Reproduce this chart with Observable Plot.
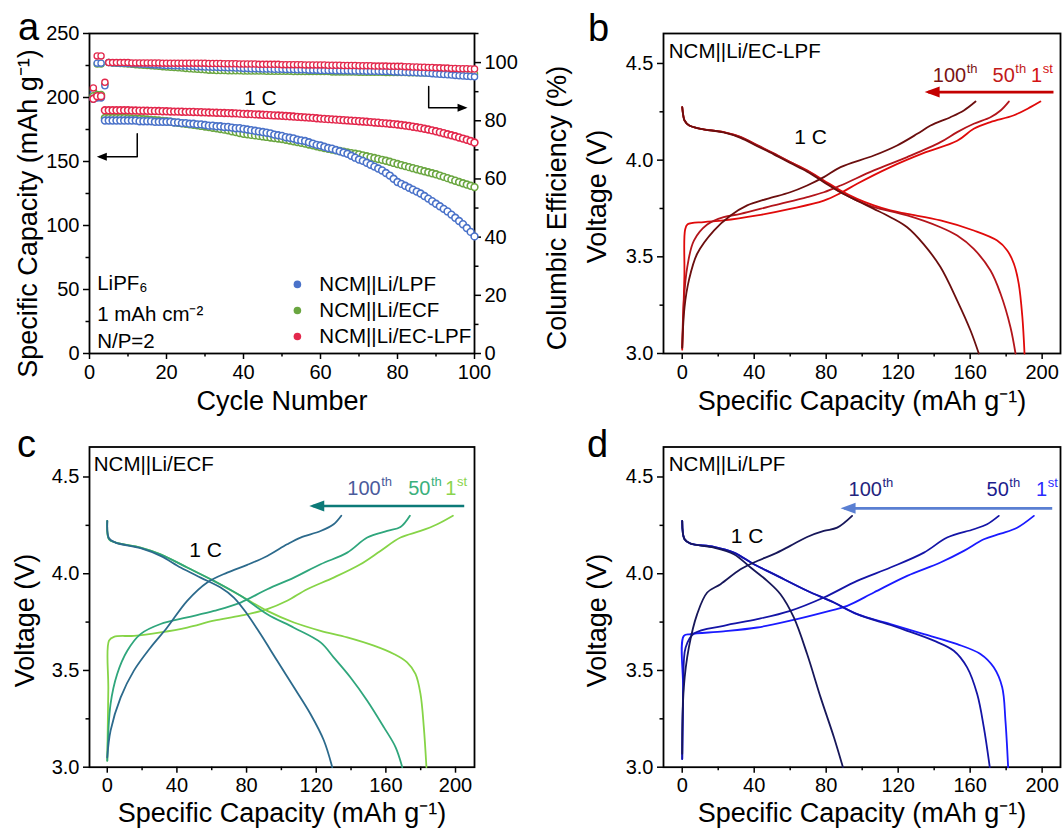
<!DOCTYPE html>
<html>
<head>
<meta charset="utf-8">
<script src="https://cdn.jsdelivr.net/npm/d3@7"></script>
<script src="https://cdn.jsdelivr.net/npm/@observablehq/plot@0.6"></script>
<style>
  body { margin: 0; background: #fff; }
  #fig { position: relative; width: 1063px; height: 831px; overflow: hidden; background: #fff; }
  #fig svg { position: absolute; overflow: visible; background: none; max-width: none; }
</style>
</head>
<body>
<div id="fig"></div>
<script>
// ---------- Panel a: cycling of three cells (cycles 1–100) ----------
const cycles = d3.range(1, 101);
const seriesNames = ["NCM||Li/LPF", "NCM||Li/ECF", "NCM||Li/EC-LPF"];

// specific capacity (mAh g^-1)
const capLPF = [199,200,200,182,
  182,182,182,182,182,182,182,182,181.5,181.5,181.5,181.5,181,181,181,181,
  181,180.5,180.5,180,180,179.5,179.5,179,179,178.5,
  178,178,177.5,177.5,177,177,176.5,176,176,175.5,
  175,174.5,174,173.5,173,172.5,172,171,170.5,170,
  169,168.5,168,167,166.5,166,165,164,163,162.5,
  161.5,160.5,160,159,158,157,156,154.5,153,151.5,
  150.5,149,147.5,146,144.5,143,141,139,136.5,134,
  132.5,131,129.5,128,126.5,125,123,121,119,117,
  115,113,111,108.5,106,103.5,101,98,95,91.5];
const capECF = [201,202,202,184,
  184,184,184,184,184,183.8,183.6,183.4,183.2,183,182.8,182.5,182.2,182,181.7,181.4,
  181,180.6,180.2,179.8,179.4,179,178.6,178.2,177.8,177.4,
  176.9,176.4,175.9,175.4,174.9,174.4,173.6,173,172.3,171.6,
  171.2,170.8,170.4,170,169.6,169.2,168.8,168.4,168,167.6,
  167,166.4,165.8,165.2,164.6,164,163.3,162.6,161.9,161.2,
  160.6,160,159.4,158.8,158.2,157.6,157,156.5,156,155.5,
  154.8,154.1,153.4,152.7,152,151.3,150.6,149.8,148.9,148,
  147.2,146.4,145.6,144.8,144,143.2,142.4,141.6,140.8,140,
  139,138,137,136,135,134,133,132,131,130];
const capECLPF = [199,201,201,190,
  190,190,190,190,190,190,189.8,189.8,189.7,189.7,189.6,189.5,189.5,189.4,189.3,189.2,
  189.1,189,189,188.9,188.8,188.8,188.7,188.6,188.5,188.4,
  188.3,188.2,188.1,188,187.9,187.8,187.7,187.6,187.4,187.2,
  187.1,187,186.8,186.7,186.5,186.4,186.2,186,185.9,185.7,
  185.5,185.3,185.1,184.9,184.7,184.5,184.3,184.1,183.8,183.5,
  183.3,183.1,182.9,182.7,182.5,182.3,182.1,181.9,181.7,181.5,
  181.3,181,180.8,180.5,180.3,180,179.8,179.5,179.2,178.9,
  178.5,178.1,177.7,177.2,176.7,176.2,175.6,175,174.3,173.6,
  172.9,172.1,171.3,170.5,169.7,168.8,167.9,167,166,164.8];

// coulombic efficiency (%)
const ceLPF = [89.5,99.8,99.8,92.0,
  100.0,99.9,99.9,99.8,99.8,99.7,99.6,99.6,99.5,99.4,99.4,99.3,99.2,99.2,99.1,99.0,
  99.0,98.9,98.9,98.8,98.8,98.7,98.7,98.6,98.6,98.5,98.5,98.4,98.4,98.3,98.3,98.2,98.2,98.1,98.1,98.0,
  98.0,97.9,97.9,97.9,97.8,97.8,97.8,97.7,97.7,97.7,97.6,97.6,97.6,97.5,97.5,97.5,97.4,97.4,97.4,97.3,
  97.3,97.3,97.3,97.2,97.2,97.2,97.2,97.1,97.1,97.1,97.1,97.0,97.0,97.0,97.0,96.9,96.9,96.9,96.8,96.8,
  96.7,96.7,96.6,96.6,96.5,96.4,96.4,96.3,96.2,96.1,96.0,95.9,95.8,95.7,95.6,95.5,95.4,95.3,95.2,95.1];
const ceECF = [90.5,99.5,99.5,92.6,
  100.0,99.9,99.8,99.7,99.6,99.5,99.4,99.3,99.2,99.1,99.0,98.9,98.8,98.7,98.6,98.5,
  98.4,98.3,98.2,98.1,98.0,97.9,97.8,97.7,97.6,97.5,97.4,97.4,97.3,97.3,97.3,97.2,97.2,97.2,97.2,97.1,
  97.1,97.1,97.1,97.1,97.1,97.0,97.0,97.0,97.0,97.0,97.0,97.0,96.9,96.9,96.9,96.9,96.9,96.9,96.9,96.9,
  96.9,96.9,96.8,96.8,96.8,96.8,96.8,96.8,96.8,96.7,96.7,96.7,96.7,96.7,96.7,96.7,96.6,96.6,96.6,96.6,
  96.6,96.6,96.5,96.5,96.5,96.5,96.4,96.4,96.4,96.4,96.3,96.3,96.3,96.3,96.2,96.2,96.2,96.2,96.1,96.1];
const ceECLPF = [91.3,102.3,102.3,93.2,
  100.0,100.0,100.0,100.0,100.0,100.0,99.9,99.9,99.9,99.9,99.9,99.9,99.9,99.9,99.8,99.8,
  99.8,99.8,99.8,99.8,99.8,99.8,99.8,99.8,99.8,99.8,99.7,99.7,99.7,99.7,99.6,99.6,99.6,99.6,99.5,99.5,
  99.5,99.5,99.5,99.4,99.4,99.4,99.4,99.4,99.4,99.3,99.3,99.3,99.3,99.3,99.3,99.2,99.2,99.2,99.2,99.2,
  99.2,99.1,99.1,99.1,99.1,99.0,99.0,99.0,99.0,98.9,98.9,98.9,98.9,98.8,98.8,98.8,98.8,98.7,98.7,98.7,
  98.7,98.6,98.6,98.5,98.5,98.4,98.4,98.3,98.3,98.2,98.2,98.1,98.1,98.0,98.0,97.9,97.9,97.9,97.8,97.8];

// ---------- Panels b–d: voltage profiles [capacity mAh g^-1, voltage V] ----------
const ecLpf1stCharge = [[0,3.02],[1.2,3.4],[1.6,3.64],[3,3.668],[12,3.68],[23,3.688],[41.7,3.714],[60,3.748],[78.7,3.791],[88,3.83],[97.2,3.878],[115.7,3.964],[134,4.036],[152.8,4.10],[162,4.162],[171.3,4.197],[184,4.231],[193.5,4.274],[199,4.303]];
const ecLpf1stDischarge = [[0,4.274],[0.6,4.23],[1.3,4.205],[3.7,4.18],[10.2,4.162],[23,4.145],[32.4,4.119],[41.7,4.076],[50.9,4.033],[60,3.99],[69.4,3.947],[78.7,3.895],[88,3.843],[97.2,3.8],[106.5,3.766],[115.7,3.74],[125,3.722],[143.5,3.688],[162,3.636],[175,3.584],[180.6,3.533],[184.3,3.464],[187,3.36],[189,3.19],[190.2,3.0]];
const ecLpf50thCharge = [[0,3.03],[0.9,3.274],[2.8,3.447],[6.5,3.584],[13.9,3.667],[23,3.705],[32.4,3.722],[50.9,3.766],[69.4,3.809],[78.7,3.834],[88,3.869],[106.5,3.947],[125,4.016],[143.5,4.093],[152.8,4.145],[162,4.188],[171.3,4.222],[176.9,4.257],[181.5,4.303]];
const ecLpf50thDischarge = [[0,4.274],[0.6,4.23],[1.3,4.205],[3.7,4.18],[10.2,4.162],[23,4.145],[32.4,4.12],[41.7,4.078],[50.9,4.035],[60,3.99],[69.4,3.945],[78.7,3.89],[88,3.834],[97.2,3.791],[106.5,3.757],[125,3.714],[143.5,3.653],[152.8,3.61],[162,3.541],[171.3,3.429],[176.9,3.309],[182.4,3.136],[185.2,3.0]];
const ecLpf100thCharge = [[0,3.03],[1.3,3.24],[3.7,3.378],[8.3,3.516],[17.6,3.636],[26.9,3.714],[36.1,3.766],[47.2,3.8],[60,3.834],[69.4,3.869],[78.7,3.912],[88,3.964],[106.5,4.024],[119.4,4.076],[130.6,4.136],[138,4.179],[149,4.222],[156.5,4.257],[163,4.303]];
const ecLpf100thDischarge = [[0,4.274],[0.6,4.23],[1.3,4.205],[3.7,4.18],[10.2,4.162],[23,4.143],[32.4,4.115],[41.7,4.072],[50.9,4.03],[60,3.985],[69.4,3.94],[78.7,3.886],[88,3.834],[97.2,3.79],[106.5,3.748],[115.7,3.705],[125,3.653],[134,3.567],[143.5,3.447],[152.8,3.274],[160.2,3.119],[164.8,3.0]];

const ecf1stCharge = [[0,3.034],[0.6,3.4],[1,3.654],[3.8,3.674],[15.3,3.679],[30.6,3.697],[45.9,3.722],[61.2,3.757],[76.6,3.783],[91.9,3.817],[103.3,3.86],[114.8,3.92],[130,3.98],[145.4,4.049],[156.9,4.118],[168.4,4.187],[179.9,4.221],[189.5,4.256],[198.5,4.3]];
const ecf1stDischarge = [[0,4.273],[1,4.178],[4.8,4.161],[19.1,4.135],[30.6,4.1],[45.9,4.032],[61.2,3.963],[76.6,3.886],[91.9,3.808],[107.2,3.748],[122.5,3.705],[137.8,3.671],[153.1,3.628],[164.6,3.585],[172.2,3.542],[177,3.482],[179.9,3.378],[181.8,3.206],[183.3,3.0]];
const ecf50thCharge = [[0,3.034],[1.9,3.327],[5.7,3.482],[11.5,3.602],[19.1,3.688],[30.6,3.74],[45.9,3.774],[61.2,3.808],[76.6,3.851],[91.9,3.92],[107.2,3.98],[122.5,4.049],[137.8,4.109],[149.3,4.187],[160.8,4.221],[168.4,4.242],[173.8,4.3]];
const ecf50thDischarge = [[0,4.273],[1,4.178],[4.8,4.161],[19.1,4.135],[30.6,4.1],[45.9,4.032],[61.2,3.963],[76.6,3.886],[91.9,3.791],[107.2,3.721],[122.5,3.645],[130,3.568],[139.7,3.464],[149.3,3.344],[158.9,3.206],[165.6,3.103],[169.4,3.0]];
const ecf100thCharge = [[0,3.05],[1.9,3.189],[7.7,3.361],[15.3,3.499],[24.9,3.619],[34.4,3.722],[45.9,3.86],[57.4,3.955],[68.9,4.006],[80.4,4.046],[91.9,4.092],[103.3,4.152],[111,4.187],[122.5,4.221],[130,4.256],[134.4,4.3]];
const ecf100thDischarge = [[0,4.273],[1,4.183],[4.8,4.161],[19.1,4.132],[30.6,4.092],[42.1,4.032],[53.6,3.98],[65.1,3.929],[72.7,3.877],[80.4,3.791],[88,3.688],[97.6,3.55],[107.2,3.413],[116.7,3.275],[124.4,3.138],[129.2,3.0]];

const lpf1stCharge = [[0,3.043],[0.5,3.4],[0.9,3.679],[4.6,3.688],[23,3.702],[41.7,3.722],[60,3.757],[78.7,3.8],[91.7,3.834],[106.5,3.903],[125,3.989],[143.5,4.058],[156.5,4.118],[167.6,4.178],[176.9,4.207],[186.1,4.238],[195.4,4.299]];
const lpf1stDischarge = [[0,4.273],[1.3,4.178],[4.6,4.156],[17.6,4.139],[28.7,4.109],[39.8,4.049],[50.9,3.998],[69.4,3.912],[84.3,3.851],[97.2,3.791],[115.7,3.74],[134.3,3.688],[152.8,3.636],[165.7,3.585],[173.1,3.516],[177.8,3.413],[179.6,3.241],[181.1,3.0]];
const lpf50thCharge = [[0,3.043],[0.6,3.413],[1.9,3.619],[6.5,3.691],[23,3.731],[41.7,3.765],[60,3.808],[78.7,3.877],[97.2,3.963],[115.7,4.032],[134.3,4.109],[147.2,4.187],[162,4.23],[169.4,4.256],[175.9,4.299]];
const lpf50thDischarge = [[0,4.273],[1.3,4.178],[4.6,4.156],[17.6,4.139],[28.7,4.109],[39.8,4.049],[50.9,3.998],[69.4,3.912],[84.3,3.851],[97.2,3.791],[115.7,3.735],[125,3.705],[139.8,3.654],[150.9,3.602],[158.3,3.516],[163.9,3.378],[167.6,3.206],[170.9,3.0]];
const lpf100thCharge = [[0,3.069],[0.9,3.413],[3.7,3.619],[8.3,3.791],[13.9,3.903],[21.3,3.946],[32.4,4.023],[41.7,4.066],[50.9,4.101],[60,4.144],[69.4,4.19],[78.7,4.221],[86.1,4.238],[94.4,4.299]];
const lpf100thDischarge = [[0,4.273],[1.3,4.178],[4.6,4.156],[17.6,4.135],[28.7,4.101],[38,4.032],[47.2,3.963],[54.6,3.894],[62,3.774],[69.4,3.585],[76.9,3.361],[84.3,3.155],[89.3,3.0]];

// tick values
const cycleTicks = [0, 20, 40, 60, 80, 100];
const cycleMinor = [10, 30, 50, 70, 90];
const capTicks = [0, 50, 100, 150, 200, 250];
const capMinor = [25, 75, 125, 175, 225];
const ceTicks = [0, 20, 40, 60, 80, 100];
const ceMinor = [10, 30, 50, 70, 90, 110];
const specTicks = [0, 40, 80, 120, 160, 200];
const specMinor = [20, 60, 100, 140, 180];
const voltTicks = [3.0, 3.5, 4.0, 4.5];
const voltMinor = [3.25, 3.75, 4.25];
const cycleOrdinals = [["100", "th"], ["50", "th"], ["1", "st"]];

// ---------- shared drawing helpers ----------
const FONT = '"Liberation Sans", Arial, Helvetica, sans-serif';
const TICK_FS = 20, LABEL_FS = 27, NOTE_FS = 20.5;
const fig = document.getElementById("fig");
const CAP_TOP = 250, CE_TOP = 110;           // left and right axis tops in panel a
const ceToCap = v => v * CAP_TOP / CE_TOP;

// filled arrowheads with the tip at the dot position
const headLeft = (len, half) => ({draw(c) { c.moveTo(0, 0); c.lineTo(len, -half); c.lineTo(len, half); c.closePath(); }});
const headRight = (len, half) => ({draw(c) { c.moveTo(0, 0); c.lineTo(-len, -half); c.lineTo(-len, half); c.closePath(); }});

function frameAxes(xMajor, xMinor, yMajor, yMinor, yFmt) {
  return [
    Plot.frame({stroke: "black", strokeWidth: 1.8}),
    Plot.axisX({ticks: xMajor, tickSize: 6, tickPadding: 5, fontSize: TICK_FS, strokeWidth: 1.5, label: null, tickFormat: d => String(d)}),
    Plot.axisX({ticks: xMinor, tickSize: 3.5, strokeWidth: 1.5, label: null, tickFormat: () => ""}),
    Plot.axisY({ticks: yMajor, tickSize: 6, tickPadding: 4, fontSize: TICK_FS, strokeWidth: 1.5, label: null, tickFormat: yFmt}),
    Plot.axisY({ticks: yMinor, tickSize: 3.5, strokeWidth: 1.5, label: null, tickFormat: () => ""})
  ];
}

function frameText(str, o) {
  return Plot.text([str], {text: d => d, fill: "black", ...o});
}

function mount(svg, left, top) {
  svg.style.left = left + "px";
  svg.style.top = top + "px";
  fig.append(svg);
}

const plotStyle = {fontFamily: FONT, fontSize: TICK_FS + "px", background: "none", overflow: "visible", color: "black"};

// ---------- panel a ----------
{
  const colors = {"NCM||Li/LPF": "#4a72c9", "NCM||Li/ECF": "#6aa640", "NCM||Li/EC-LPF": "#e3284c"};
  const cap = {"NCM||Li/LPF": capLPF, "NCM||Li/ECF": capECF, "NCM||Li/EC-LPF": capECLPF};
  const ce = {"NCM||Li/LPF": ceLPF, "NCM||Li/ECF": ceECF, "NCM||Li/EC-LPF": ceECLPF};
  const drawOrder = ["NCM||Li/ECF", "NCM||Li/LPF", "NCM||Li/EC-LPF"];

  const capRows = drawOrder.flatMap(s => cycles.map((c, i) => ({series: s, cycle: c, v: cap[s][i]})));
  const ceRows = drawOrder.flatMap(s => cycles.map((c, i) => ({series: s, cycle: c, v: ce[s][i]})));
  const legendRows = seriesNames.map((s, i) => ({series: s, row: i}));
  const legendY = [54, 33.6, 13.3];

  const svg = Plot.plot({
    width: 540, height: 420,
    marginLeft: 89, marginRight: 66, marginTop: 33, marginBottom: 67,
    x: {domain: [0, 100]},
    y: {domain: [0, CAP_TOP]},
    style: plotStyle,
    marks: [
      ...frameAxes(cycleTicks, cycleMinor, capTicks, capMinor, d => String(d)),
      Plot.axisY(ceTicks.map(ceToCap), {anchor: "right", tickSize: 6, tickPadding: 4, fontSize: TICK_FS, strokeWidth: 1.5, label: null, tickFormat: d => String(Math.round(d * CE_TOP / CAP_TOP))}),
      Plot.axisY(ceMinor.map(ceToCap), {anchor: "right", tickSize: 3.5, strokeWidth: 1.5, label: null, tickFormat: () => ""}),
      Plot.dot(ceRows, {x: "cycle", y: d => ceToCap(d.v), r: 3.1, fill: "white", stroke: d => colors[d.series], strokeWidth: 1.3}),
      Plot.dot(capRows, {x: "cycle", y: "v", r: 3.4, fill: "white", stroke: d => colors[d.series], strokeWidth: 1.6}),
      // guide arrows pointing to the capacity and efficiency axes
      Plot.line([[12.4, 171.6], [12.4, 153.8], [2.6, 153.8]], {x: d => d[0], y: d => d[1], stroke: "black", strokeWidth: 1.5}),
      Plot.dot([[1.9, 153.8]], {x: d => d[0], y: d => d[1], symbol: headLeft(10, 4), fill: "black", stroke: "none"}),
      Plot.line([[88.1, 208.6], [88.1, 191.9], [97.5, 191.9]], {x: d => d[0], y: d => d[1], stroke: "black", strokeWidth: 1.5}),
      Plot.dot([[98.2, 191.9]], {x: d => d[0], y: d => d[1], symbol: headRight(10, 4), fill: "black", stroke: "none"}),
      Plot.text(["1 C"], {x: () => 44.4, y: () => 199.5, text: d => d, fontSize: 21, fill: "black"}),
      Plot.text(["LiPF\u2086"], {x: () => 2, y: () => 54.7, text: d => d, fontSize: NOTE_FS, textAnchor: "start", fill: "black"}),
      Plot.text(["1 mAh cm\u207B\u00B2"], {x: () => 2, y: () => 30.5, text: d => d, fontSize: NOTE_FS, textAnchor: "start", fill: "black"}),
      Plot.text(["N/P=2"], {x: () => 2, y: () => 9.8, text: d => d, fontSize: NOTE_FS, textAnchor: "start", fill: "black"}),
      // legend
      Plot.dot(legendRows, {x: () => 54, y: d => legendY[d.row], r: 3.8, fill: d => colors[d.series], stroke: "none"}),
      Plot.text(legendRows, {x: () => 59.7, y: d => legendY[d.row], text: "series", fontSize: NOTE_FS, textAnchor: "start", fill: "black"}),
      // labels
      frameText("a", {frameAnchor: "top-left", dx: -61, dy: 6, fontSize: 38, textAnchor: "middle", lineAnchor: "bottom"}),
      frameText("Specific Capacity (mAh g\u207B\u00B9)", {frameAnchor: "left", dx: -53, dy: 20, rotate: -90, fontSize: LABEL_FS, textAnchor: "middle", lineAnchor: "bottom"}),
      frameText("Columbic Efficiency (%)", {frameAnchor: "right", dx: 91, dy: 14.5, rotate: -90, fontSize: LABEL_FS, textAnchor: "middle", lineAnchor: "bottom"}),
      frameText("Cycle Number", {frameAnchor: "bottom", dy: 56, fontSize: LABEL_FS, textAnchor: "middle", lineAnchor: "bottom"})
    ]
  });
  mount(svg, 0, 0);
}

// ---------- voltage profile panels ----------
function profilePanel(cfg) {
  const curves = [
    {d: cfg.c1, color: cfg.colors[2]}, {d: cfg.d1, color: cfg.colors[2]},
    {d: cfg.c50, color: cfg.colors[1]}, {d: cfg.d50, color: cfg.colors[1]},
    {d: cfg.c100, color: cfg.colors[0]}, {d: cfg.d100, color: cfg.colors[0]}
  ];
  const ordRows = cycleOrdinals.map((o, i) => ({num: o[0], suf: o[1], at: cfg.ordAt[i], color: cfg.textColors[i]}));
  const arrow = cfg.arrow;
  const svg = Plot.plot({
    width: cfg.width, height: cfg.height,
    marginLeft: cfg.ml, marginRight: cfg.mr, marginTop: cfg.mt, marginBottom: cfg.mb,
    x: {domain: cfg.xDomain},
    y: {domain: [3.0, 4.655]},
    style: plotStyle,
    marks: [
      ...frameAxes(specTicks, specMinor, voltTicks, voltMinor, d3.format(".1f")),
      ...curves.map(c => Plot.line(c.d, {x: d => d[0], y: d => d[1], stroke: c.color, strokeWidth: 1.8, curve: "catmull-rom"})),
      Plot.link([arrow], {x1: d => d.from, x2: d => d.to + 2, y1: d => d.v, y2: d => d.v, stroke: arrow.color, strokeWidth: 2.6}),
      Plot.dot([arrow], {x: d => d.to, y: d => d.v, symbol: headLeft(15, 5.5), fill: arrow.color, stroke: "none"}),
      Plot.text(ordRows, {x: "at", y: () => cfg.ordV, text: "num", fill: "color", fontSize: 20, textAnchor: "end", lineAnchor: "bottom"}),
      Plot.text(ordRows, {x: "at", y: () => cfg.ordV, text: "suf", fill: "color", fontSize: 13, textAnchor: "start", lineAnchor: "bottom", dx: 0.5, dy: -9}),
      Plot.text(["1 C"], {x: () => cfg.rate[0], y: () => cfg.rate[1], text: d => d, fontSize: 21, fill: "black"}),
      frameText(cfg.title, {frameAnchor: "top-left", dx: cfg.titleDx, dy: cfg.titleDy, fontSize: NOTE_FS, textAnchor: "start", lineAnchor: "bottom"}),
      frameText(cfg.letter, {frameAnchor: "top-left", dx: cfg.letterDx, dy: cfg.letterDy, fontSize: 38, textAnchor: "middle", lineAnchor: "bottom"}),
      frameText("Voltage (V)", {frameAnchor: "left", dx: cfg.vDx, dy: cfg.vDy, rotate: -90, fontSize: LABEL_FS, textAnchor: "middle", lineAnchor: "bottom"}),
      frameText("Specific Capacity (mAh g\u207B\u00B9)", {frameAnchor: "bottom", dy: cfg.xDy, fontSize: LABEL_FS, textAnchor: "middle", lineAnchor: "bottom"})
    ]
  });
  mount(svg, cfg.left, cfg.top);
}

profilePanel({
  letter: "b", title: "NCM||Li/EC-LPF", left: 540, top: 0, width: 523, height: 420,
  ml: 123, mr: 3, mt: 33, mb: 67, xDomain: [-10.4, 210.2],
  c1: ecLpf1stCharge, d1: ecLpf1stDischarge, c50: ecLpf50thCharge, d50: ecLpf50thDischarge, c100: ecLpf100thCharge, d100: ecLpf100thDischarge,
  colors: ["#6b0e0e", "#b3151b", "#e00a0a"], textColors: ["#7a1414", "#c21a1a", "#d41212"],
  ordAt: [157.8, 184.8, 200], ordV: 4.403,
  arrow: {from: 206.3, to: 134.7, v: 4.352, color: "#c40000"},
  rate: [71.3, 4.119],
  titleDx: 5.3, titleDy: 24.3, letterDx: -65, letterDy: 7, vDx: -57.3, vDy: 3, xDy: 56
});

profilePanel({
  letter: "c", title: "NCM||Li/ECF", left: 0, top: 420, width: 540, height: 411,
  ml: 89, mr: 66, mt: 26.5, mb: 64.3, xDomain: [-10.2, 210.9],
  c1: ecf1stCharge, d1: ecf1stDischarge, c50: ecf50thCharge, d50: ecf50thDischarge, c100: ecf100thCharge, d100: ecf100thDischarge,
  colors: ["#2c6a8c", "#2fa67c", "#86d447"], textColors: ["#4a5b9c", "#3bb07c", "#8ad44c"],
  ordAt: [157, 185.6, 200.5], ordV: 4.407,
  arrow: {from: 205, to: 116, v: 4.35, color: "#0c7a78"},
  rate: [56.4, 4.122],
  titleDx: 4.3, titleDy: 23.5, letterDx: -63, letterDy: 10.2, vDx: -55.7, vDy: 13.4, xDy: 55
});

profilePanel({
  letter: "d", title: "NCM||Li/LPF", left: 540, top: 420, width: 523, height: 411,
  ml: 123, mr: 3, mt: 26.5, mb: 64.3, xDomain: [-10.4, 210.2],
  c1: lpf1stCharge, d1: lpf1stDischarge, c50: lpf50thCharge, d50: lpf50thDischarge, c100: lpf100thCharge, d100: lpf100thDischarge,
  colors: ["#17175a", "#1414a6", "#1a1aff"], textColors: ["#24247e", "#1c1c8e", "#2a2aff"],
  ordAt: [111, 181.5, 202.8], ordV: 4.402,
  arrow: {from: 205.6, to: 88, v: 4.338, color: "#5a7fd2"},
  rate: [36.1, 4.195],
  titleDx: 5.3, titleDy: 23.5, letterDx: -66, letterDy: 10.2, vDx: -57.3, vDy: 13.4, xDy: 55
});
</script>
</body>
</html>
